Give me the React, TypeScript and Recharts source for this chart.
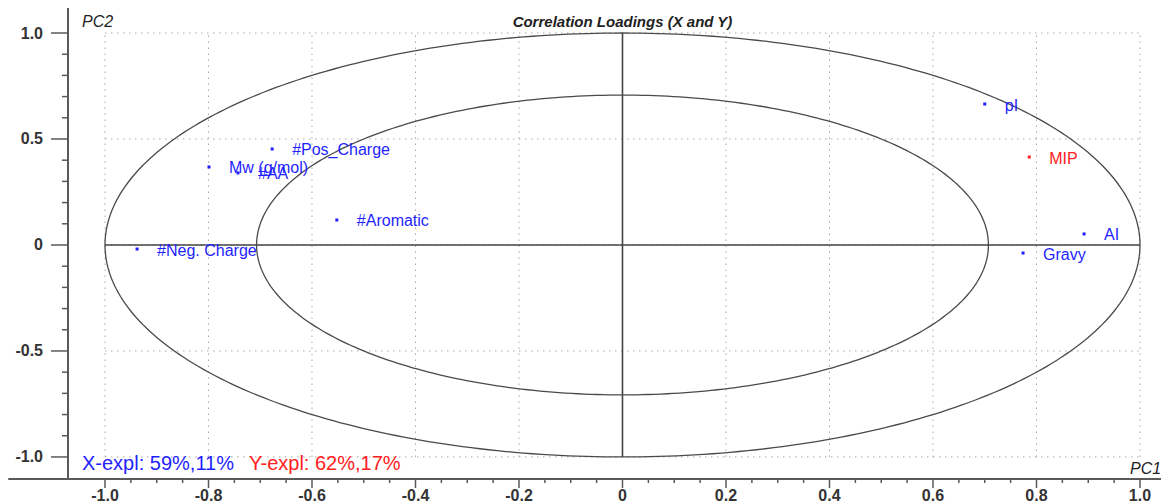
import { ComposedChart, ReferenceLine, Scatter, XAxis, YAxis } from "recharts";

// X-variables (blue), loadings on PC1 / PC2
const xVarNames = ["pI", "AI", "Gravy", "#Pos_Charge", "Mw (g/mol)", "#AA", "#Aromatic", "#Neg. Charge"];
const xVarPc1 = [0.7, 0.892, 0.774, -0.677, -0.799, -0.743, -0.552, -0.938];
const xVarPc2 = [0.665, 0.052, -0.038, 0.453, 0.368, 0.34, 0.118, -0.019];

// Y-variable (red)
const yVarNames = ["MIP"];
const yVarPc1 = [0.786];
const yVarPc2 = [0.415];

const majorXTicks = [-1.0, -0.8, -0.6, -0.4, -0.2, 0, 0.2, 0.4, 0.6, 0.8, 1.0];
const majorYTicks = [-1.0, -0.5, 0, 0.5, 1.0];

// correlation circles: 100% and 50% explained variance
const outerRadius = 1.0;
const innerRadius = Math.SQRT1_2;

const X_DOMAIN: [number, number] = [-1.0715, 1.0406];
const Y_DOMAIN: [number, number] = [-1.104, 1.118];

const FONT = "'Liberation Sans', Arial, sans-serif";
const BLUE = "#1f1fff";
const RED = "#ff2020";
const AXIS = "#5a5a5a";

// minor ticks: 0.05 on PC1, 0.1 on PC2
const minorBetween = (majors: number[], parts: number) => {
  const out: number[] = [];
  for (let i = 0; i < majors.length - 1; i++) {
    const step = (majors[i + 1] - majors[i]) / parts;
    for (let k = 1; k < parts; k++) out.push(+(majors[i] + step * k).toFixed(3));
  }
  return out;
};
const allXTicks = [...majorXTicks, ...minorBetween(majorXTicks, 4)].sort((a, b) => a - b);
const allYTicks = [...majorYTicks, ...minorBetween(majorYTicks, 5)].sort((a, b) => a - b);

const isMajor = (list: number[], v: number) => list.some((t) => Math.abs(t - v) < 1e-6);
const fmt = (v: number) => (Math.abs(v) < 1e-9 ? "0" : v.toFixed(1));

const circle = (r: number) =>
  Array.from({ length: 361 }, (_, i) => {
    const a = (i / 360) * 2 * Math.PI;
    return { x: r * Math.cos(a), y: r * Math.sin(a) };
  });

const xVars = xVarNames.map((name, i) => ({ name, x: xVarPc1[i], y: xVarPc2[i] }));
const yVars = yVarNames.map((name, i) => ({ name, x: yVarPc1[i], y: yVarPc2[i] }));

function XTick({ x, y, payload }: any) {
  const major = isMajor(majorXTicks, payload.value);
  return (
    <g>
      <line x1={x} x2={x} y1={y} y2={y + (major ? 9 : 4)} stroke={AXIS} strokeWidth={1.5} />
      {major && (
        <text x={x} y={y + 16} textAnchor="middle" dominantBaseline="central" fontFamily={FONT} fontSize={16} fontWeight="bold" fill="#333">
          {fmt(payload.value)}
        </text>
      )}
    </g>
  );
}

function YTick({ x, y, payload }: any) {
  const major = isMajor(majorYTicks, payload.value);
  return (
    <g>
      <line x1={x - (major ? 17 : 6)} x2={x} y1={y} y2={y} stroke={AXIS} strokeWidth={1.5} />
      {major && (
        <text x={x - 25} y={y} textAnchor="end" dominantBaseline="central" fontFamily={FONT} fontSize={16} fontWeight="bold" fill="#333">
          {fmt(payload.value)}
        </text>
      )}
    </g>
  );
}

const loadingShape = (color: string) => (props: any) => {
  const { cx, cy, payload } = props;
  return (
    <g>
      <rect x={cx - 1.5} y={cy - 1.5} width={3} height={3} fill={color} />
      <text x={cx + 20} y={cy + 1} dominantBaseline="central" fontFamily={FONT} fontSize={16} fill={color}>
        {payload.name}
      </text>
    </g>
  );
};

const noDot = () => <g />;

export default function App() {
  const overlay = { position: "absolute" as const, fontFamily: FONT, whiteSpace: "nowrap" as const };
  return (
    <div style={{ position: "absolute", left: 0, top: 0, width: 1161, height: 501, background: "#fff" }}>
      <ComposedChart width={1161} height={501} margin={{ top: 8, right: 0, bottom: 0, left: 0 }}>
        <XAxis
          type="number"
          dataKey="x"
          domain={X_DOMAIN}
          allowDataOverflow
          ticks={allXTicks}
          interval={0}
          tickSize={0}
          tickMargin={0}
          tickLine={false}
          height={22}
          axisLine={{ stroke: AXIS, strokeWidth: 2 }}
          tick={<XTick />}
        />
        <YAxis
          type="number"
          dataKey="y"
          domain={Y_DOMAIN}
          allowDataOverflow
          ticks={allYTicks}
          interval={0}
          tickSize={0}
          tickMargin={0}
          tickLine={false}
          width={68}
          axisLine={{ stroke: AXIS, strokeWidth: 2 }}
          tick={<YTick />}
        />

        {majorXTicks.map((t) => (
          <ReferenceLine
            key={`gx${t}`}
            segment={[{ x: t, y: -1 }, { x: t, y: 1 }]}
            stroke="#a8a8a8"
            strokeDasharray="1.5 4.5"
          />
        ))}
        {majorYTicks.map((t) => (
          <ReferenceLine
            key={`gy${t}`}
            segment={[{ x: -1, y: t }, { x: 1, y: t }]}
            stroke="#a8a8a8"
            strokeDasharray="1.5 4.5"
          />
        ))}

        {/* x axis line runs on past the y axis */}
        <ReferenceLine
          segment={[{ x: -1.187, y: Y_DOMAIN[0] }, { x: X_DOMAIN[0], y: Y_DOMAIN[0] }]}
          stroke={AXIS}
          strokeWidth={2}
          ifOverflow="visible"
        />

        <Scatter data={circle(outerRadius)} line={{ stroke: "#4a4a4a", strokeWidth: 1.3 }} lineType="joint" shape={noDot} isAnimationActive={false} />
        <Scatter data={circle(innerRadius)} line={{ stroke: "#4a4a4a", strokeWidth: 1.3 }} lineType="joint" shape={noDot} isAnimationActive={false} />

        <ReferenceLine segment={[{ x: 0, y: -1 }, { x: 0, y: 1 }]} stroke="#444" strokeWidth={1.6} />
        <ReferenceLine segment={[{ x: -1, y: 0 }, { x: 1, y: 0 }]} stroke="#444" strokeWidth={1.6} />

        <Scatter data={xVars} shape={loadingShape(BLUE)} isAnimationActive={false} />
        <Scatter data={yVars} shape={loadingShape(RED)} isAnimationActive={false} />
      </ComposedChart>

      <div style={{ ...overlay, left: 82, top: 12, fontSize: 16, fontStyle: "italic", color: "#222", lineHeight: "20px" }}>PC2</div>
      <div
        style={{
          ...overlay,
          left: 0,
          width: 1245,
          top: 12,
          textAlign: "center",
          fontSize: 15,
          fontStyle: "italic",
          fontWeight: "bold",
          color: "#222",
          lineHeight: "20px",
        }}
      >
        Correlation Loadings (X and Y)
      </div>
      <div style={{ ...overlay, left: 1130, top: 459, fontSize: 16, fontStyle: "italic", color: "#222", lineHeight: "20px" }}>PC1</div>
      <div style={{ ...overlay, left: 82, top: 451, fontSize: 20, color: BLUE, lineHeight: "24px" }}>X-expl: 59%,11%</div>
      <div style={{ ...overlay, left: 249, top: 451, fontSize: 20, color: RED, lineHeight: "24px" }}>Y-expl: 62%,17%</div>
    </div>
  );
}
